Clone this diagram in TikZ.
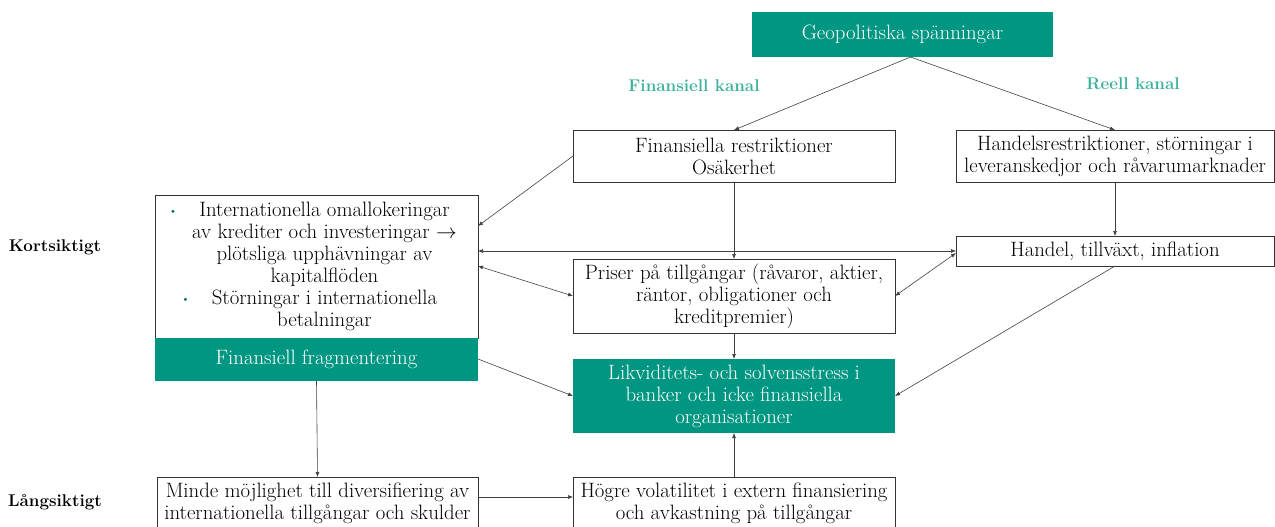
\documentclass[tikz,border=0pt]{standalone}
\usetikzlibrary{arrows.meta,calc}
\definecolor{tealbox}{RGB}{0,150,130}
\definecolor{teallab}{RGB}{60,176,156}
\definecolor{tealbul}{RGB}{0,110,95}
\newcommand{\fsz}{\fontsize{20.8}{22}\selectfont}
\newcommand{\bul}{\leavevmode\llap{\textcolor{tealbul}{\raisebox{2pt}{\fontsize{11}{11}\selectfont\textbullet}}\hspace{22pt}}}
\tikzset{
  box/.style={draw=black!80, line width=0.8pt, fill=white, align=center, anchor=north west,
    inner sep=0pt, outer sep=0pt, font=\fsz},
  tbox/.style={box, draw=none, fill=tealbox, text=white},
  lab/.style={font=\fontsize{17}{20}\selectfont\bfseries},
  arr/.style={draw=black!75, line width=0.6pt, -{Latex[length=5pt,width=4pt]}},
  darr/.style={draw=black!75, line width=0.6pt, {Latex[length=5pt,width=4pt]}-{Latex[length=5pt,width=4pt]}}
}
\begin{document}
\begin{tikzpicture}[x=1pt,y=-1pt]
\useasboundingbox (0,0) rectangle (1275,527);
\node[tbox, minimum width=301, minimum height=45] (geo) at (752,12) {Geopolitiska spänningar};
\node[lab, text=teallab] (fk) at (694,86) {Finansiell kanal};
\node[lab, text=teallab] (rk) at (1133,84) {Reell kanal};
\node[box, minimum width=322, minimum height=52] (finr) at (573,130) {Finansiella restriktioner\\Osäkerhet};
\node[box, minimum width=318, minimum height=52] (hand) at (956,130) {Handelsrestriktioner, störningar i\\leveranskedjor och råvarumarknader};
\node[box, minimum width=323, minimum height=143] (left) at (155,195) {\hspace*{16pt}\begin{minipage}{300pt}\centering
\bul Internationella omallokeringar\\
av krediter och investeringar $\rightarrow$\\
plötsliga upphävningar av\\
kapitalflöden\\
\bul Störningar i internationella\\
betalningar\end{minipage}};
\node[tbox, minimum width=323, minimum height=43] (frag) at (155,338) {Finansiell fragmentering};
\node[box, minimum width=322, minimum height=74] (pris) at (573,259) {Priser på tillgångar (råvaror, aktier,\\räntor, obligationer och\\kreditpremier)};
\node[box, minimum width=318, minimum height=30] (htv) at (956,236) {Handel, tillväxt, inflation};
\node[tbox, minimum width=322, minimum height=74] (likv) at (573,359) {Likviditets- och solvensstress i\\banker och icke finansiella\\organisationer};
\node[box, minimum width=321, minimum height=52] (minde) at (157,477) {Minde möjlighet till diversifiering av\\internationella tillgångar och skulder};
\node[box, minimum width=322, minimum height=52] (hogre) at (573,477) {Högre volatilitet i extern finansiering\\och avkastning på tillgångar};
\node[lab] (kort) at (55,247) {Kortsiktigt};
\node[lab] (lang) at (55,502) {Långsiktigt};
% connectors
\draw[arr] ([xshift=8pt]geo.south) -- (finr.north);
\draw[arr] ([xshift=8pt]geo.south) -- (hand.north);
\draw[arr] ([yshift=-26pt]finr.north west) -- ([yshift=-31pt]left.north east);
\draw[arr] (finr.south) -- (pris.north);
\draw[arr] (hand.south) -- (htv.north);
\draw[darr] (left.east |- htv.west) -- (htv.west);
\draw[darr] ([yshift=-71pt]left.north east) -- (pris.west);
\draw[darr] ([yshift=-2pt]htv.west) -- (pris.east);
\draw[arr] (htv.south) -- (likv.east);
\draw[arr] (pris.south) -- (likv.north);
\draw[arr] ([yshift=-21pt]frag.north east) -- (likv.west);
\draw[arr] (frag.south) -- (minde.north);
\draw[arr] ([yshift=-20pt]minde.north east) -- ([yshift=-20pt]hogre.north west);
\draw[arr] (hogre.north) -- (likv.south);
\end{tikzpicture}
\end{document}
